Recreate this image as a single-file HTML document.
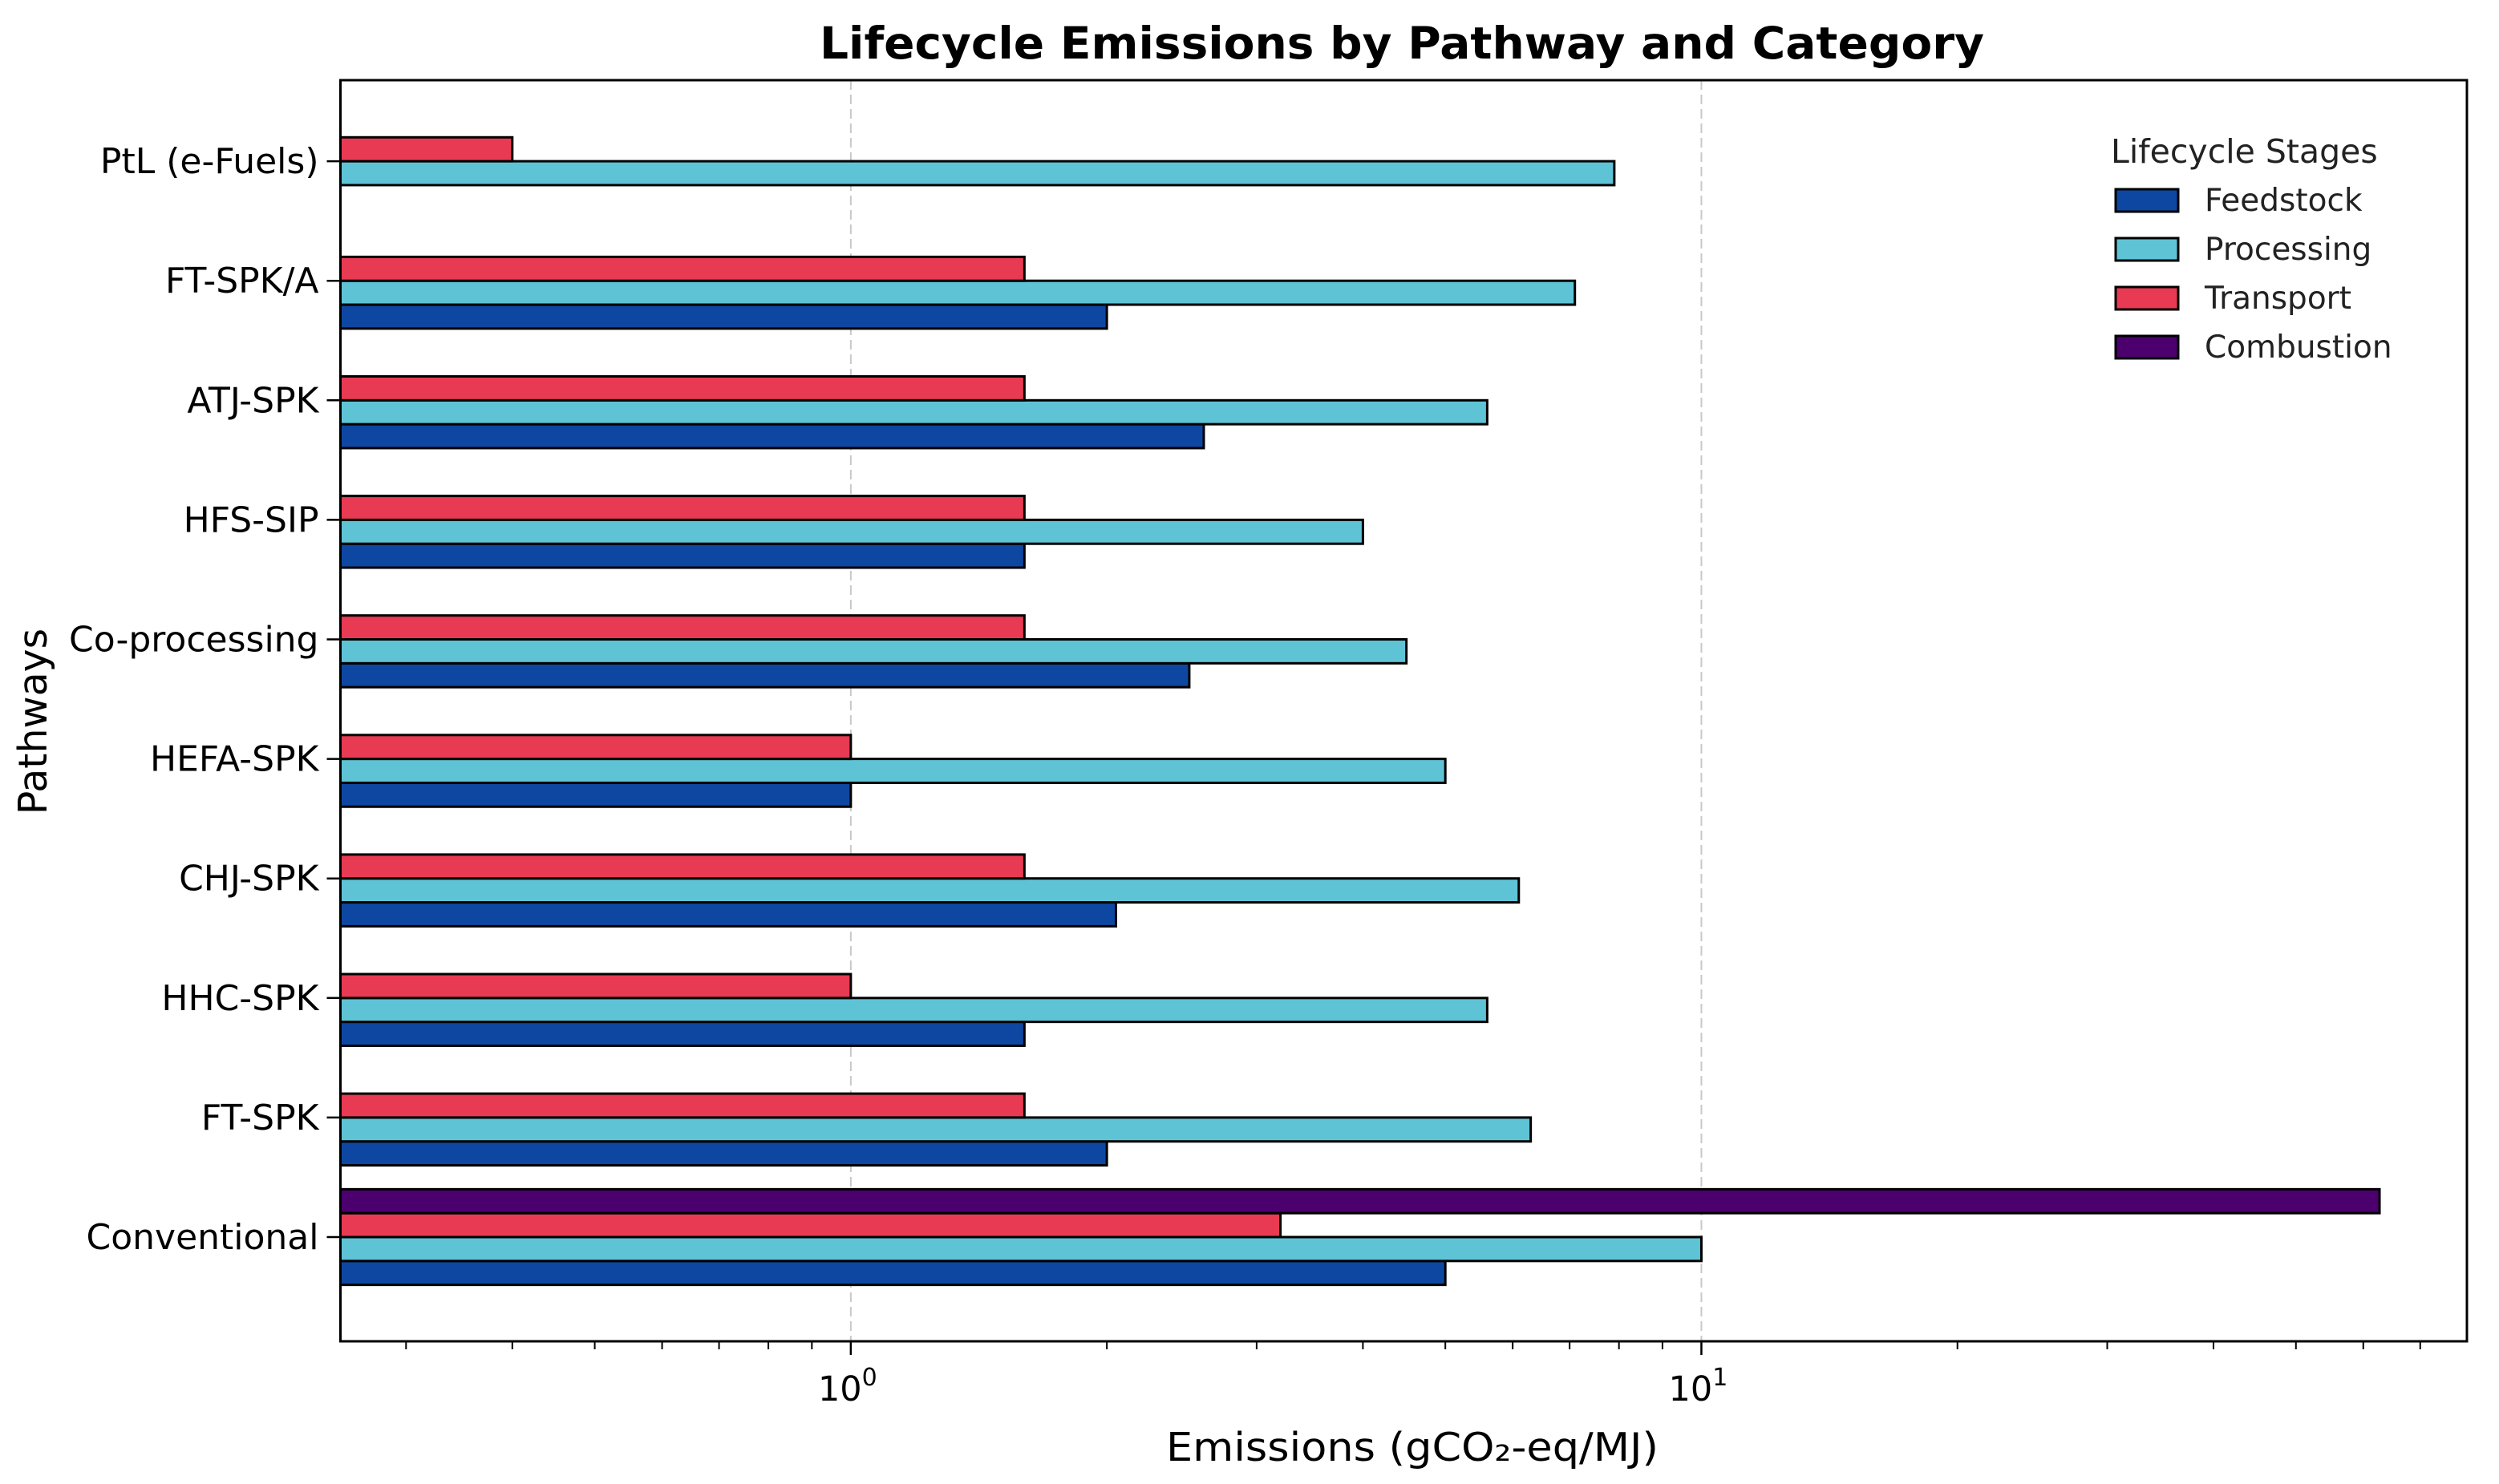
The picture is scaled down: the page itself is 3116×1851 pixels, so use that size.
<!DOCTYPE html>
<html><head><meta charset="utf-8"><style>
html,body{margin:0;padding:0;background:#fff;}
svg{display:block;font-family:"DejaVu Sans","Liberation Sans",sans-serif;}
</style></head><body>
<svg id="chart" width="3116" height="1851" viewBox="0 0 3116 1851" xmlns="http://www.w3.org/2000/svg">
<rect width="3116" height="1851" fill="#fff"/>
<text x="1748" y="73" text-anchor="middle" font-size="55" font-weight="bold" textLength="1452" lengthAdjust="spacingAndGlyphs">Lifecycle Emissions by Pathway and Category</text>
<g id="grid"></g>
<g id="bars"></g>
<g id="axes"></g>
<text x="1761" y="1822" text-anchor="middle" font-size="49" textLength="614" lengthAdjust="spacingAndGlyphs">Emissions (gCO₂-eq/MJ)</text>
<text transform="translate(58,900) rotate(-90)" text-anchor="middle" font-size="49">Pathways</text>
<g id="legend"></g>
</svg>
<script>
const categories = ["Conventional","FT-SPK","HHC-SPK","CHJ-SPK","HEFA-SPK","Co-processing","HFS-SIP","ATJ-SPK","FT-SPK/A","PtL (e-Fuels)"];
const feedstock  = [5.0, 2.0, 1.6, 2.05, 1.0, 2.5, 1.6, 2.6, 2.0, 0];
const processing = [10, 6.3, 5.6, 6.1, 5.0, 4.5, 4.0, 5.6, 7.1, 7.9];
const transport  = [3.2, 1.6, 1.0, 1.6, 1.0, 1.6, 1.6, 1.6, 1.6, 0.4];
const combustion = [62.7, 0, 0, 0, 0, 0, 0, 0, 0, 0];
const seriesNames = ["Feedstock","Processing","Transport","Combustion"];
const seriesColors = ["#0e47a1","#5fc3d6","#e83a52","#4b006e"];
const majorTicks = [1, 10];
const majorTickLabels = ["0","1"];
const minorTicks = [0.3,0.4,0.5,0.6,0.7,0.8,0.9,2,3,4,5,6,7,8,9,20,30,40,50,60,70];

const NS="http://www.w3.org/2000/svg";
const L=424.5,R=3076,T=100,B=1673;
const lmin=-0.6,lmax=1.9;
function xs(v){return L+(Math.log10(v)-lmin)/(lmax-lmin)*(R-L);}
const y0=1543, step=149.1;
function ys(i){return y0-i*step;}
function mk(tag,attrs,parent){const e=document.createElementNS(NS,tag);for(const k in attrs)e.setAttribute(k,attrs[k]);parent.appendChild(e);return e;}
const grid=document.getElementById('grid'),bars=document.getElementById('bars'),axes=document.getElementById('axes'),legend=document.getElementById('legend');

majorTicks.forEach(v=>{
  const g=mk('line',{x1:xs(v),x2:xs(v),y1:T,y2:B,stroke:'#c8c8c8','stroke-width':2,'stroke-dasharray':'12,6'},grid);
  
  
});

const allSeries=[feedstock,processing,transport,combustion];
const bh=0.2*step;
const offsets=[1.5,0.5,-0.5,-1.5];
categories.forEach((c,i)=>{
  allSeries.forEach((s,j)=>{
    const v=s[i]; if(!v||v<=0) return;
    const cy=ys(i)+offsets[j]*bh;
    const r=mk('rect',{x:L,y:cy-bh/2,width:xs(v)-L,height:bh,fill:seriesColors[j],stroke:'#000','stroke-width':3},bars);
    
    
  });
  const t=mk('line',{x1:L-17,x2:L,y1:ys(i),y2:ys(i),stroke:'#000','stroke-width':2.5},axes);
  
  
  const lb=mk('text',{x:L-27,y:ys(i)+15,'text-anchor':'end','font-size':44},axes);
  lb.textContent=c;
  
  
});

const frame=mk('rect',{x:L,y:T,width:R-L,height:B-T,fill:'none',stroke:'#000','stroke-width':3},axes);



minorTicks.forEach(v=>{
  const t=mk('line',{x1:xs(v),x2:xs(v),y1:B,y2:B+10,stroke:'#000','stroke-width':2},axes);
  
  
});
majorTicks.forEach((v,k)=>{
  const t=mk('line',{x1:xs(v),x2:xs(v),y1:B,y2:B+17,stroke:'#000','stroke-width':2.5},axes);
  
  
  const lb=mk('text',{x:xs(v)-4,y:1747,'text-anchor':'middle','font-size':43},axes);
  
  
  lb.appendChild(document.createTextNode('10'));
  const sp=mk('tspan',{dy:-19,'font-size':30},lb);
  sp.textContent=majorTickLabels[k];
});

const lt=mk('text',{x:2632,y:203,'font-size':41,fill:'#222'},legend);
lt.textContent='Lifecycle Stages';


seriesNames.forEach((n,j)=>{
  const cy=250+j*61;
  const p=mk('rect',{x:2638,y:cy-14,width:78,height:28,fill:seriesColors[j],stroke:'#000','stroke-width':3},legend);
  
  
  const t=mk('text',{x:2749,y:cy+13,'font-size':39,fill:'#222'},legend);
  t.textContent=n;
  
  
});
</script>
</body></html>
